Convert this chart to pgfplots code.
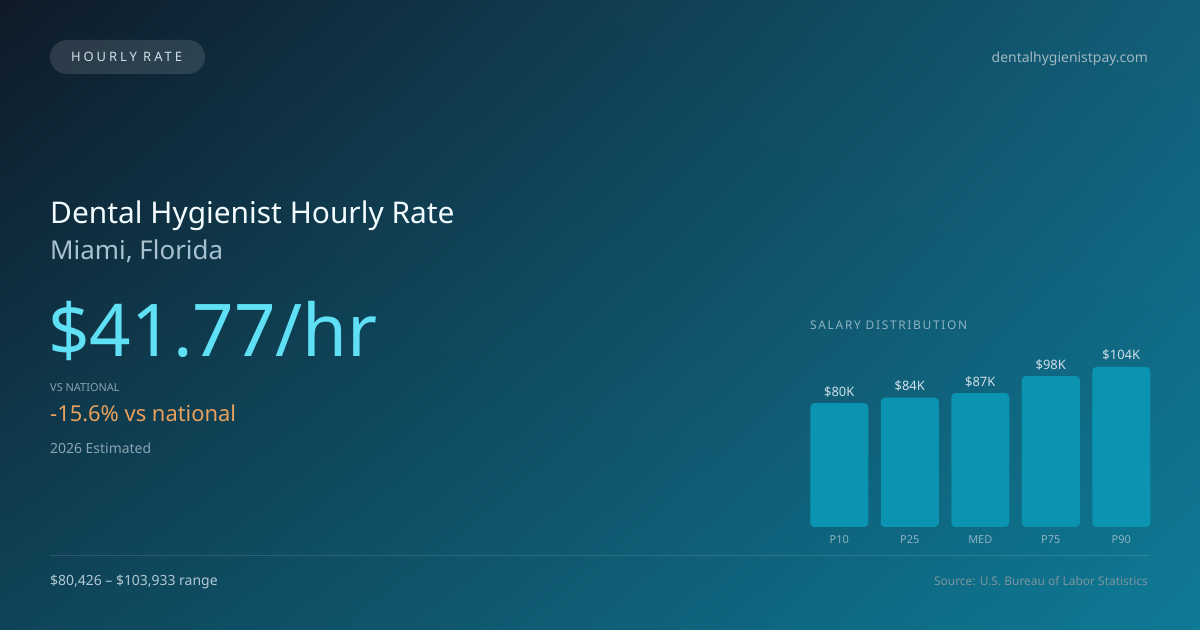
\documentclass[border=0pt]{standalone}
\usepackage{fontspec}
\setmainfont{Noto Sans}
\usepackage{pgfplots}
\pgfplotsset{compat=1.18}
\usetikzlibrary{shadings}
\definecolor{bgUL}{HTML}{0F1A28}
\definecolor{bgUR}{HTML}{125E78}
\definecolor{bgLL}{HTML}{0F4458}
\definecolor{bgLR}{HTML}{0F7A96}
\definecolor{barc}{HTML}{0B94B1}
\definecolor{cyanbig}{HTML}{5FE0F5}
\definecolor{orng}{HTML}{E9A05C}
\definecolor{subt}{HTML}{A8C3CF}
\definecolor{muted}{HTML}{8AA5B2}
\definecolor{lbl}{HTML}{CFE0E8}
\definecolor{tick}{HTML}{8DB3C2}
\begin{document}
\begin{tikzpicture}[x=1bp,y=1bp]
\useasboundingbox (0,0) rectangle (1200,630);
\shade[upper left=bgUL, upper right=bgUR, lower left=bgLL, lower right=bgLR] (0,0) rectangle (1200,630);
% pill
\fill[white, fill opacity=0.12, rounded corners=17bp] (50,556) rectangle (205,590);
\node[anchor=base, inner sep=0, text=lbl] at (126.5,568) {\fontsize{13}{15}\selectfont\addfontfeature{LetterSpace=23}HOURLY RATE};
\node[anchor=base east, inner sep=0, text=muted!80!white] at (1148,567) {\fontsize{14}{16}\selectfont dentalhygienistpay.com};
% title block
\node[anchor=base west, inner sep=0, text=white!95!cyan] at (50,406) {\fontsize{30}{36}\selectfont Dental Hygienist Hourly Rate};
\node[anchor=base west, inner sep=0, text=subt] at (50,370) {\fontsize{26}{30}\selectfont Miami, Florida};
\node[anchor=base west, inner sep=0, text=cyanbig] at (48,273) {\fontsize{73}{80}\selectfont \$41.77/hr};
\node[anchor=base west, inner sep=0, text=muted] at (50,238) {\fontsize{11}{13}\selectfont VS NATIONAL};
\node[anchor=base west, inner sep=0, text=orng] at (50,208) {\fontsize{22}{26}\selectfont -15.6\% vs national};
\node[anchor=base west, inner sep=0, text=muted] at (50,176) {\fontsize{14}{17}\selectfont 2026 Estimated};
% footer
\draw[white, opacity=0.13, line width=1bp] (50,74) -- (1150,74);
\node[anchor=base west, inner sep=0, text=subt!90!white] at (50,44) {\fontsize{14}{17}\selectfont \$80,426 – \$103,933 range};
\node[anchor=base east, inner sep=0, text=muted!90!black] at (1148,44) {\fontsize{12}{15}\selectfont Source: U.S. Bureau of Labor Statistics};
% chart title
\node[anchor=base west, inner sep=0, text=tick] at (810,300) {\fontsize{12}{14}\selectfont\addfontfeature{LetterSpace=14}SALARY DISTRIBUTION};
\begin{axis}[
  at={(804bp,103bp)}, anchor=south west,
  scale only axis, width=352.5bp, height=169.35bp,
  xmin=-0.5, xmax=4.5, ymin=0, ymax=110,
  axis line style={draw=none}, major tick length=0pt,
  ytick=\empty,
  xtick={0,1,2,3,4}, xticklabels={P10,P25,MED,P75,P90},
  xticklabel style={font=\fontsize{11}{13}\selectfont, text=tick, inner sep=0pt, anchor=base, yshift=-17bp},
  /pgf/number format/assume math mode=true,
  clip=false,
  ybar, bar width=58bp,
  nodes near coords={\$\pgfmathprintnumber[fixed,precision=0]{\pgfplotspointmeta}K},
  every node near coord/.append style={font=\fontsize{13}{15}\selectfont, text=lbl, anchor=base, inner sep=0pt, yshift=7bp},
]
\addplot[draw=none, fill=barc, rounded corners=4bp] coordinates {(0,80.426) (1,84) (2,87) (3,98) (4,103.933)};
\end{axis}
\end{tikzpicture}
\end{document}
